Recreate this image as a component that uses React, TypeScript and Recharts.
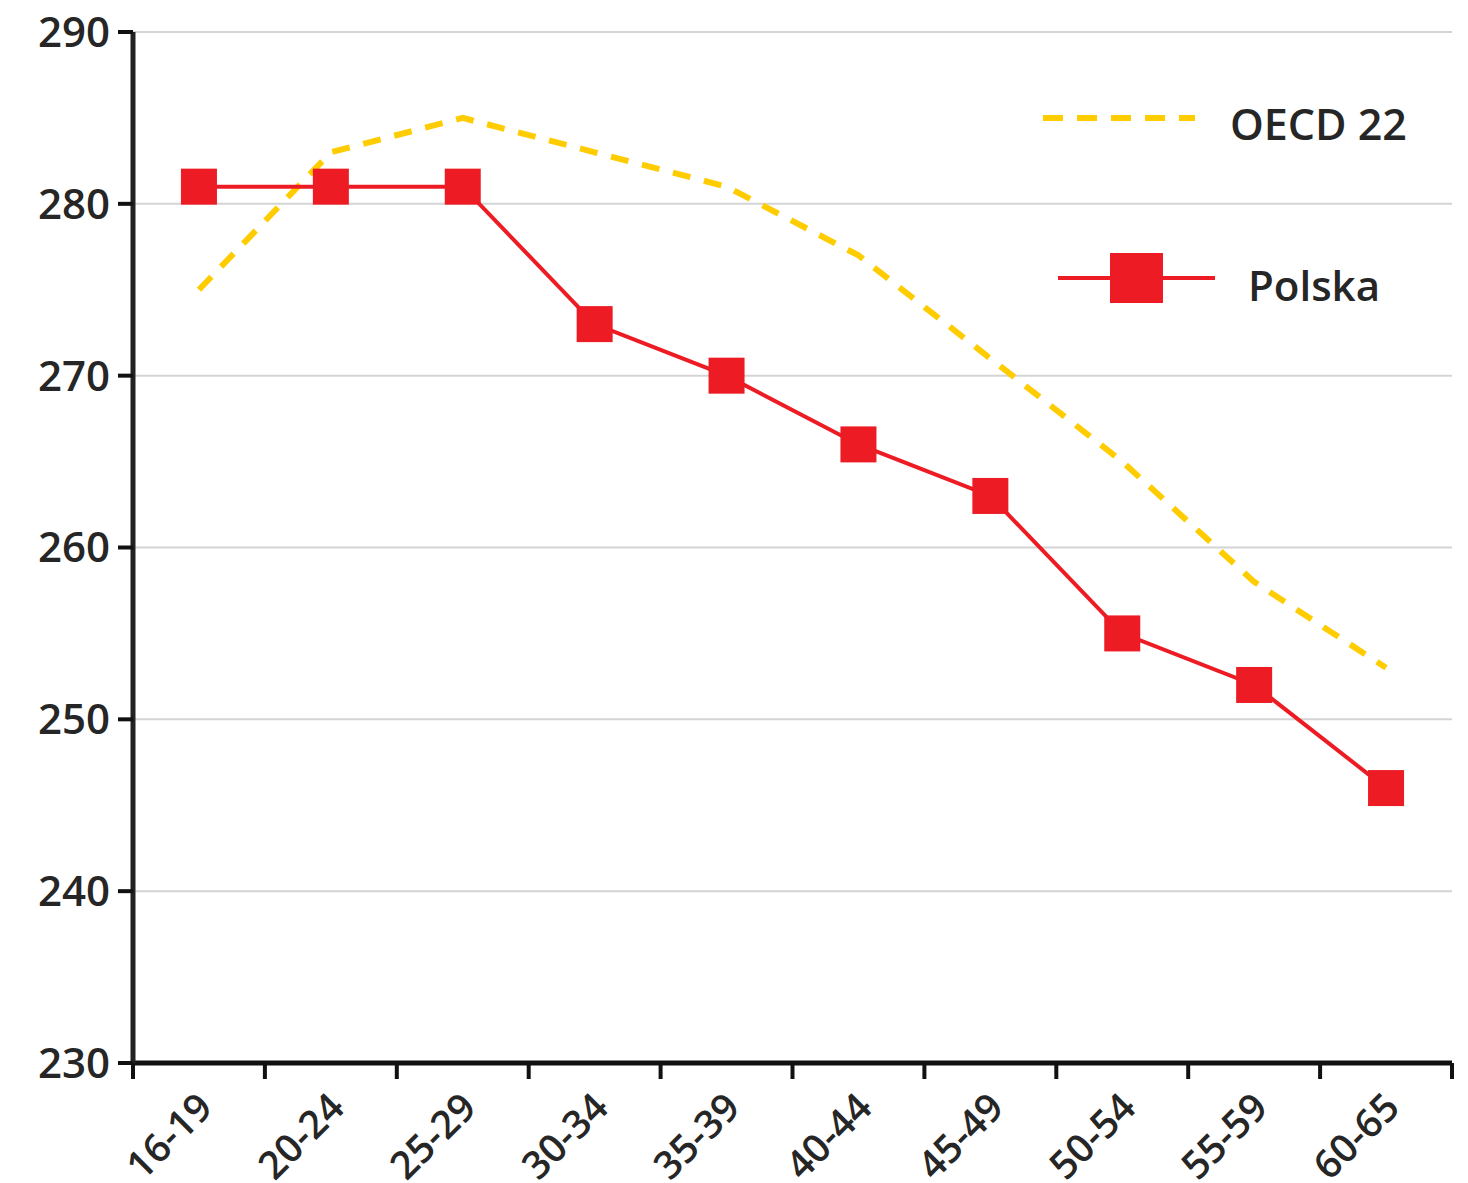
import React from "react";
import { LineChart, Line, XAxis, YAxis, CartesianGrid } from "recharts";

const categories = ["16-19", "20-24", "25-29", "30-34", "35-39", "40-44", "45-49", "50-54", "55-59", "60-65"];
const polska = [281, 281, 281, 273, 270, 266, 263, 255, 252, 246];
const oecd = [275, 283, 285, 283, 281, 277, 271, 265, 258, 253];
const yTicks = [230, 240, 250, 260, 270, 280, 290];
const boundaryTicks = [0, 1, 2, 3, 4, 5, 6, 7, 8, 9, 10];

const data = categories.map((c, i) => ({ cat: c, pos: i + 0.5, polska: polska[i], oecd: oecd[i] }));

const RED = "#ED1C24";
const YELLOW = "#FFCC00";
const TEXT = "#262626";
const FONT = "'Open Sans', sans-serif";

const SquareDot = (props: any) => {
  const { cx, cy } = props;
  if (cx == null || cy == null) return null;
  const s = 36;
  return <rect x={cx - s / 2} y={cy - s / 2} width={s} height={s} fill={RED} />;
};

const CatTick = (props: any) => {
  const { x, y, payload } = props;
  const ax = x - 8;
  const ay = y + 4;
  return (
    <text
      x={ax}
      y={ay}
      transform={`rotate(-45, ${ax}, ${ay})`}
      textAnchor="end"
      dominantBaseline="hanging"
      fontSize={39}
      fontWeight={600}
      fontFamily={FONT}
      fill={TEXT}
    >
      {payload.value}
    </text>
  );
};

const LegendBox = () => (
  <svg width={430} height={260} style={{ position: "absolute", left: 1030, top: 70 }}>
    <line x1={13} y1={48} x2={165} y2={48} stroke={YELLOW} strokeWidth={6} strokeDasharray="20 14" />
    <text x={200} y={70} fontSize={43} fontWeight={600} fontFamily={FONT} fill={TEXT}>OECD 22</text>
    <line x1={28} y1={208} x2={185} y2={208} stroke={RED} strokeWidth={4} />
    <rect x={80} y={183} width={53} height={50} fill={RED} />
    <text x={218} y={231} fontSize={42} fontWeight={600} fontFamily={FONT} fill={TEXT}>Polska</text>
  </svg>
);

export default function App() {
  return (
    <div style={{ position: "absolute", left: 0, top: 0, width: 1468, height: 1183, background: "#fff" }}>
      <LineChart
        width={1468}
        height={1183}
        data={data}
        margin={{ top: 32, right: 16, bottom: 0, left: 0 }}
      >
        <CartesianGrid horizontal={true} vertical={false} stroke="#d4d4d4" strokeWidth={2} />
        <XAxis
          xAxisId="a"
          dataKey="pos"
          type="number"
          domain={[0, 10]}
          ticks={boundaryTicks}
          allowDataOverflow
          height={1}
          axisLine={{ stroke: "#111", strokeWidth: 5 }}
          tickLine={{ stroke: "#111", strokeWidth: 4 }}
          tickSize={16}
          tickFormatter={() => ""}
        />
        <XAxis
          xAxisId="b"
          dataKey="cat"
          type="category"
          scale="band"
          height={119}
          axisLine={false}
          tickLine={false}
          tickSize={16}
          interval={0}
          tick={<CatTick />}
        />
        <YAxis
          domain={[230, 290]}
          ticks={yTicks}
          width={133}
          allowDataOverflow
          axisLine={{ stroke: "#222", strokeWidth: 5 }}
          tickLine={{ stroke: "#111", strokeWidth: 4 }}
          tickSize={15}
          tickMargin={8}
          tick={{ fontSize: 42, fontWeight: 600, fontFamily: FONT, fill: TEXT }}
        />
        <Line
          xAxisId="b"
          dataKey="oecd"
          type="linear"
          stroke={YELLOW}
          strokeWidth={6}
          strokeDasharray="18 14"
          dot={false}
          activeDot={false}
          isAnimationActive={false}
        />
        <Line
          xAxisId="b"
          dataKey="polska"
          type="linear"
          stroke={RED}
          strokeWidth={4}
          dot={<SquareDot />}
          activeDot={false}
          isAnimationActive={false}
        />
      </LineChart>
      <LegendBox />
    </div>
  );
}
